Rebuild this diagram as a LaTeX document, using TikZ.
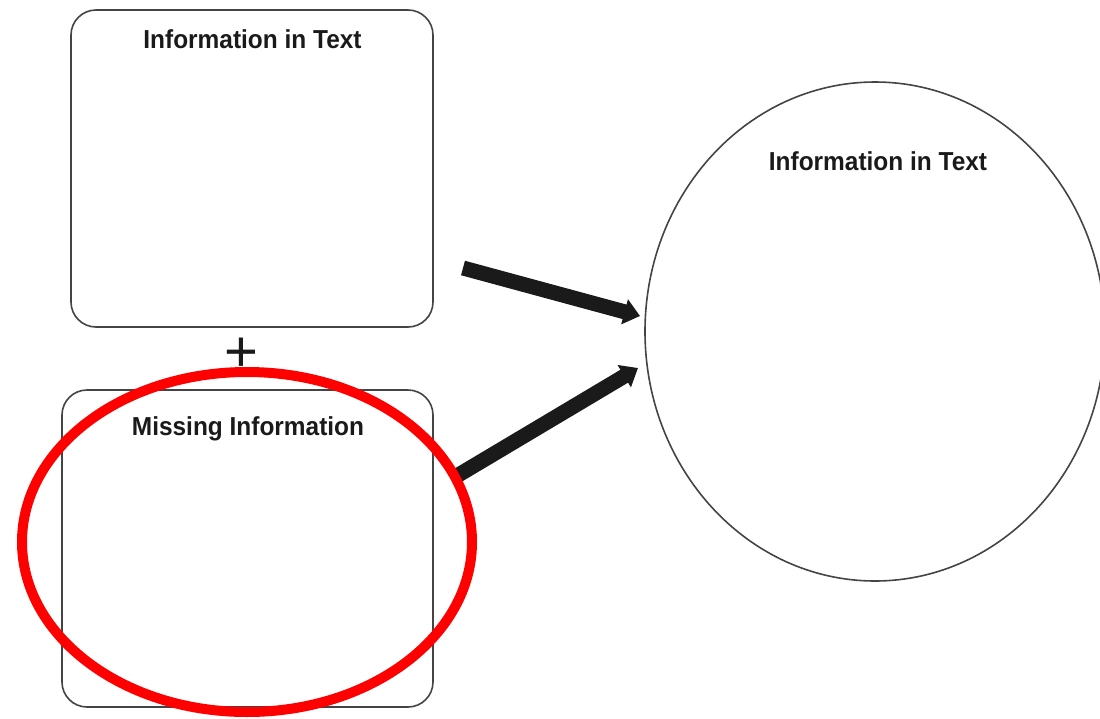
\documentclass[tikz,border=0pt]{standalone}
\usepackage{fontspec}
\usetikzlibrary{arrows.meta,shapes.geometric}
\newfontfamily\labfont{Liberation Sans}
\definecolor{ink}{HTML}{1A1A1A}
\definecolor{edge}{HTML}{444444}
\tikzset{
  panel/.style={draw=edge,line width=1.6pt,rounded corners=25pt,inner sep=0pt},
  oval/.style={draw=edge,line width=1.6pt,ellipse,inner sep=0pt},
  highlight/.style={draw=red,line width=10pt,ellipse,inner sep=0pt},
  title/.style={anchor=base,inner sep=0pt,text=ink,font=\labfont\bfseries\fontsize{26}{30}\selectfont},
  bigarrow/.style={draw=ink,line width=15pt,-{Triangle[width=25pt,length=16pt]}},
}
\newcommand{\ttl}[1]{\scalebox{0.94}[1]{#1}}
\begin{document}
\begin{tikzpicture}[x=1pt,y=-1pt]
\useasboundingbox (0,0) rectangle (1100,718);
\node[panel,minimum width=362pt,minimum height=317pt] (top) at (252,168.5) {};
\node[panel,minimum width=371pt,minimum height=317pt] (bot) at (247.5,548.5) {};
\node[oval,minimum width=460pt,minimum height=499pt] (circ) at (875,331.5) {};
\node[title] (ttop) at (252.5,48) {\ttl{Information in Text}};
\node[title] (tbot) at (248,435) {\ttl{Missing Information}};
\node[title] (tcirc) at (878,170) {\ttl{Information in Text}};
\node[inner sep=0pt,text=ink,font=\labfont\fontsize{58}{58}\selectfont] (plus) at (241,355) {+};
\coordinate (a1s) at (463,268);
\coordinate (a1e) at (640,316);
\coordinate (a2s) at (455,477);
\coordinate (a2e) at (638,368);
\draw[bigarrow] (a1s) -- (a1e);
\draw[bigarrow] (a2s) -- (a2e);
\node[highlight,minimum width=450pt,minimum height=340pt] (mark) at (247,542) {};
\end{tikzpicture}
\end{document}
